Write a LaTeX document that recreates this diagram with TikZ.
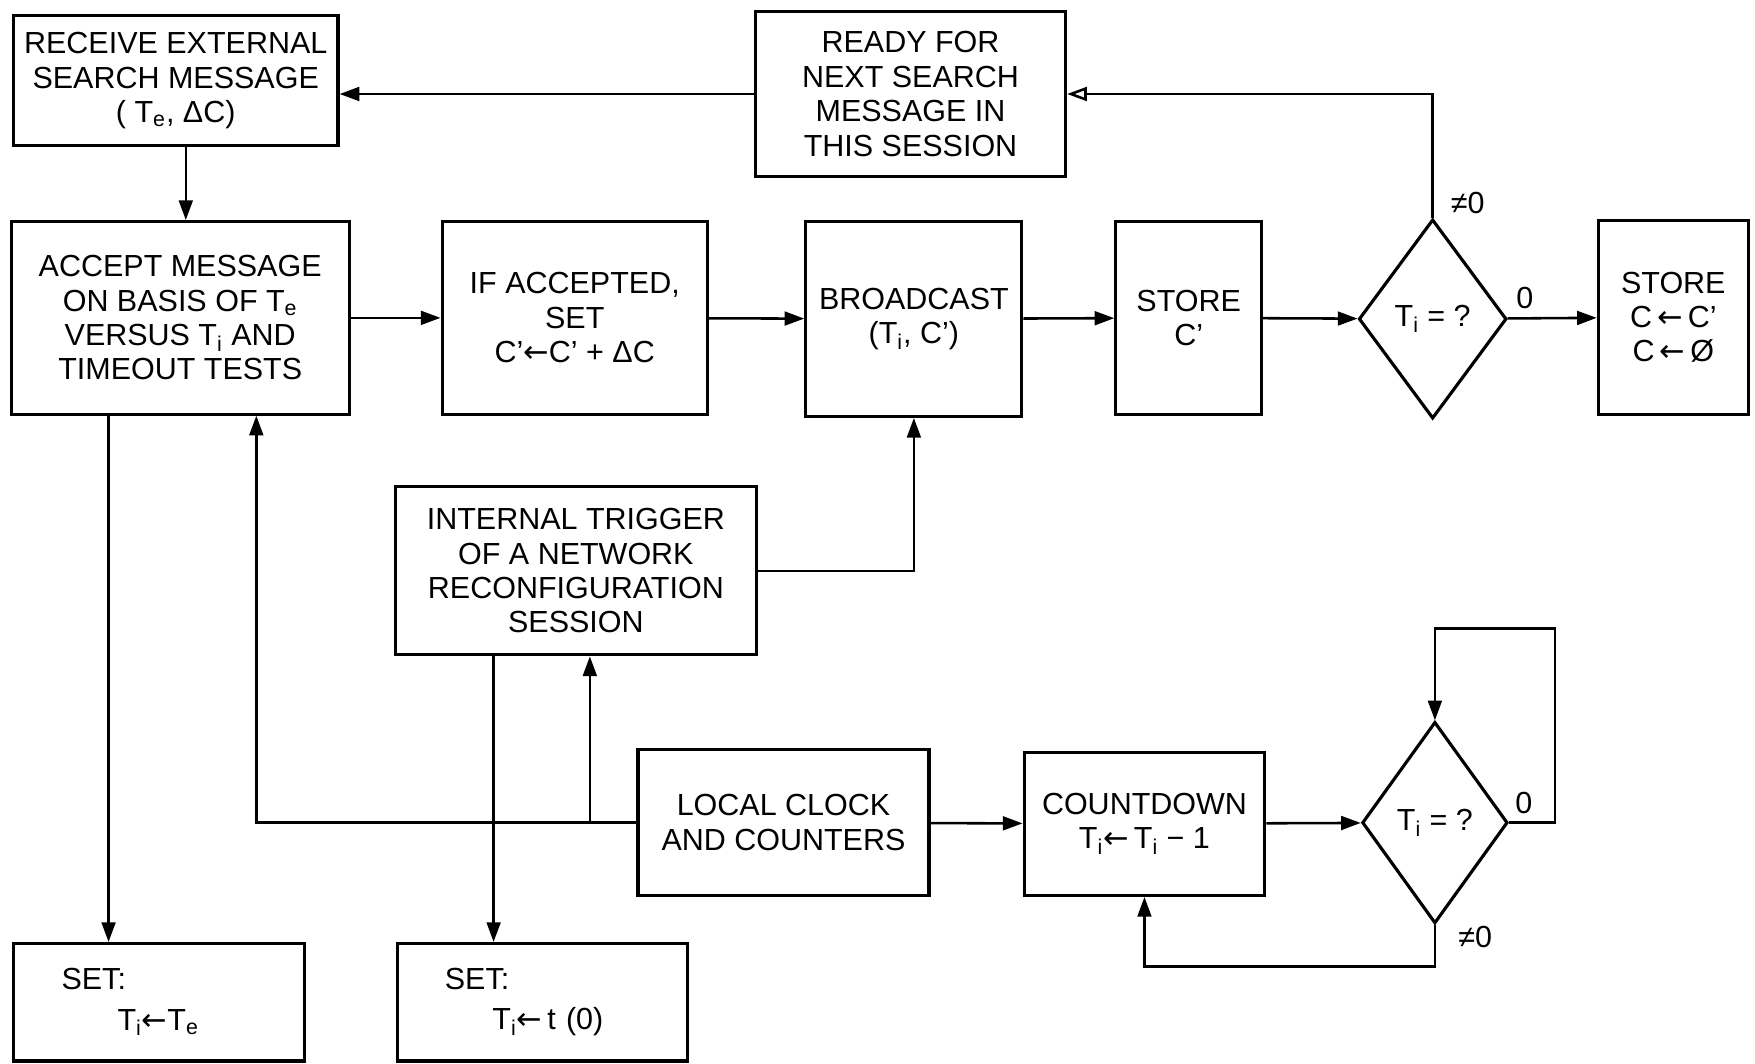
\documentclass[tikz,border=0pt]{standalone}
\usepackage{fontspec}
\setmainfont{Liberation Sans}
\newfontfamily\arrowfont{DejaVu Sans}
\newcommand{\getsarrow}{{\arrowfont ←}}
\usetikzlibrary{arrows.meta,positioning,shapes.geometric}

\begin{document}
\begin{tikzpicture}[
      box/.style={draw, line width=1.6pt, align=center, inner sep=2pt,
                  font=\fontsize{15.5}{17.5}\selectfont},
      decision/.style={draw, diamond, line width=1.6pt, minimum width=2.64cm,
                  minimum height=3.56cm, inner sep=0pt, font=\fontsize{15.5}{17.5}\selectfont},
      lbl/.style={inner sep=0pt, font=\fontsize{15.5}{17.5}\selectfont},
      arr/.style={-{Triangle[length=10pt,width=7pt]}, line width=1.3pt},
      oarr/.style={-{Triangle[open,length=10pt,width=7pt]}, line width=1.3pt}
    ]
      \useasboundingbox (0,0) rectangle (31.36,19);
      % top row
      \node[box, minimum width=5.8cm, minimum height=2.32cm] (receive) at (3.14,17.56)
        {RECEIVE EXTERNAL\\SEARCH MESSAGE\\( T\textsubscript{e}, ΔC)};
      \node[box, minimum width=5.54cm, minimum height=2.96cm] (ready) at (16.27,17.32)
        {READY FOR\\NEXT SEARCH\\MESSAGE IN\\THIS SESSION};
      % middle row
      \node[box, minimum width=6.04cm, minimum height=3.44cm] (accept) at (3.22,13.32)
        {ACCEPT MESSAGE\\ON BASIS OF T\textsubscript{e}\\VERSUS T\textsubscript{i} AND\\TIMEOUT TESTS};
      \node[box, minimum width=4.74cm, minimum height=3.44cm] (ifacc) at (10.27,13.32)
        {IF ACCEPTED,\\SET\\C'\getsarrow C' + ΔC};
      \node[box, minimum width=3.86cm, minimum height=3.48cm] (bcast) at (16.33,13.3)
        {BROADCAST\\(T\textsubscript{i}, C')};
      \node[box, minimum width=2.6cm, minimum height=3.44cm] (storec) at (21.24,13.32)
        {STORE\\C'};
      \node[decision] (test1) at (25.6,13.3) {T\textsubscript{i} = ?};
      \node[box, minimum width=2.68cm, minimum height=3.46cm] (storeall) at (29.9,13.33)
        {STORE\\C\,\getsarrow\,C'\\C\,\getsarrow\,Ø};
      % lower part
      \node[box, minimum width=6.46cm, minimum height=3cm] (trigger) at (10.29,8.8)
        {INTERNAL TRIGGER\\OF A NETWORK\\RECONFIGURATION\\SESSION};
      \node[box, minimum width=5.2cm, minimum height=2.6cm] (clock) at (14,4.3)
        {LOCAL CLOCK\\AND COUNTERS};
      \node[box, minimum width=4.3cm, minimum height=2.56cm] (count) at (20.45,4.28)
        {COUNTDOWN\\T\textsubscript{i}\getsarrow\,T\textsubscript{i} − 1};
      \node[decision, minimum width=2.6cm, minimum height=3.6cm] (test2) at (25.64,4.3)
        {T\textsubscript{i} = ?};
      \node[box, minimum width=5.2cm, minimum height=2.1cm, text width=3.48cm, align=left]
        (setext) at (2.84,1.09) {SET:\\[3pt]\hspace*{1cm}T\textsubscript{i}\getsarrow T\textsubscript{e}};
      \node[box, minimum width=5.18cm, minimum height=2.1cm, text width=3.48cm, align=left]
        (setint) at (9.69,1.09) {SET:\\[3pt]\hspace*{0.85cm}T\textsubscript{i}\getsarrow\,t (0)};
      % branch labels
      \node[lbl, anchor=west] (ne1) at ([xshift=0.32cm,yshift=0.26cm]test1.north) {≠0};
      \node[lbl] (zero1) at ([xshift=0.3cm,yshift=0.38cm]test1.east) {0};
      \node[lbl] (zero2) at ([xshift=0.26cm,yshift=0.36cm]test2.east) {0};
      \node[lbl] (ne2) at ([xshift=0.72cm,yshift=-0.22cm]test2.south) {≠0};

      % connectors
      \draw[arr] (ready.west) -- (ready.west -| receive.east);
      \draw[arr] ([xshift=0.18cm]receive.south) -- ([xshift=0.18cm]receive.south |- accept.north);
      \draw[arr] (accept) -- (ifacc);
      \draw[arr] (ifacc) -- (bcast);
      \draw[arr] (bcast) -- (storec);
      \draw[arr] (storec) -- (test1);
      \draw[arr] (test1) -- (storeall);
      \draw[oarr] (test1.north) |- (ready.east);
      \draw[arr] ([xshift=-1.28cm]accept.south) -- ([xshift=-1.28cm]accept.south |- setext.north);
      \draw[arr] (clock.west) -| ([xshift=1.36cm]accept.south);
      \coordinate (split) at ([xshift=0.25cm]trigger.south |- clock.west);
      \draw[arr] (split) -- (split |- trigger.south);
      \draw[arr] ([xshift=-1.47cm]trigger.south) -- ([xshift=-1.47cm]trigger.south |- setint.north);
      \draw[arr] (trigger.east) -| (bcast.south);
      \draw[arr] (clock) -- (count);
      \draw[arr] (count) -- (test2);
      \coordinate (loop) at ([yshift=1.64cm]test2.north);
      \draw[arr] (test2.east) -- ++(0.82,0) |- (loop) -- (test2.north);
      \draw[arr] (test2.south) -- ++(0,-0.74) -| (count.south);
    \end{tikzpicture}
\end{document}
